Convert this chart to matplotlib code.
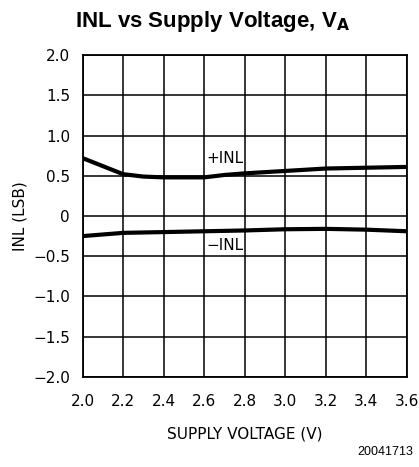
import matplotlib
matplotlib.use('Agg')
from matplotlib import pyplot as plt

# supply voltage sweep [V]
vaPos = [2.0, 2.1, 2.2, 2.3, 2.4, 2.5, 2.6, 2.7, 2.8, 3.0, 3.2, 3.4, 3.6]
inlPos = [0.72, 0.62, 0.52, 0.49, 0.48, 0.48, 0.48, 0.51, 0.53, 0.56, 0.59, 0.60, 0.61]

vaNeg = [2.0, 2.2, 2.4, 2.6, 2.8, 3.0, 3.2, 3.4, 3.6]
inlNeg = [-0.25, -0.21, -0.20, -0.19, -0.18, -0.165, -0.16, -0.17, -0.19]

xTicks = [2.0, 2.2, 2.4, 2.6, 2.8, 3.0, 3.2, 3.4, 3.6]
yTicks = [-2.0, -1.5, -1.0, -0.5, 0.0, 0.5, 1.0, 1.5, 2.0]
yLabels = ['\u22122.0', '\u22121.5', '\u22121.0', '\u22120.5', '0', '0.5', '1.0', '1.5', '2.0']

fig = plt.figure(figsize=(4.19, 4.67), dpi=100)
ax = fig.add_axes([0.197, 0.193, 0.774, 0.689])

ax.plot(vaPos, inlPos, color='black', linewidth=3.0)
ax.plot(vaNeg, inlNeg, color='black', linewidth=3.0)

ax.set_xlim(2.0, 3.6)
ax.set_ylim(-2.0, 2.0)
ax.set_xticks(xTicks)
ax.set_xticklabels([f'{v:.1f}' for v in xTicks])
ax.set_yticks(yTicks)
ax.set_yticklabels(yLabels)
ax.tick_params(axis='x', length=0, labelsize=11, pad=12)
ax.tick_params(axis='y', length=0, labelsize=11, pad=9)
ax.grid(True, color='black', linewidth=1.1)
for s in ax.spines.values():
    s.set_linewidth(1.3)

ax.text(2.61, 0.71, '+INL', fontsize=11, ha='left', va='center')
ax.text(2.61, -0.37, '\u2212INL', fontsize=11, ha='left', va='center')

ax.set_xlabel('SUPPLY VOLTAGE (V)', fontsize=11, labelpad=13)
ax.set_ylabel('INL (LSB)', fontsize=11, labelpad=4)

fig.text(0.508, 0.955, r'INL vs Supply Voltage, V$_\mathbf{A}$', fontsize=16,
         fontweight='bold', family='Liberation Sans', ha='center', va='center')
fig.text(0.985, 0.032, '20041713', fontsize=9, family='Liberation Sans',
         ha='right', va='center')

fig.savefig('out.png', dpi=100)
